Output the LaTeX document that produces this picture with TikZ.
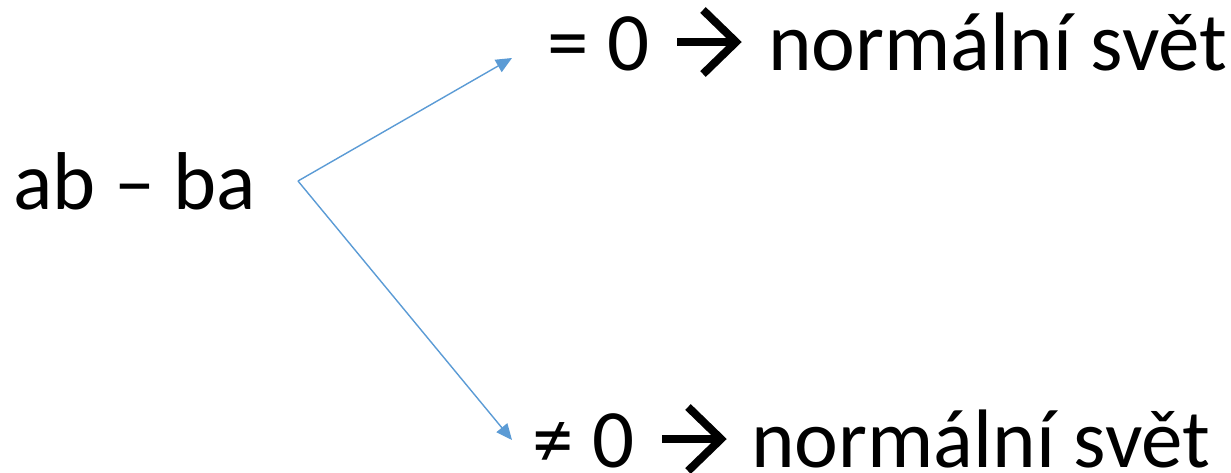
\documentclass[tikz,border=0pt]{standalone}
\usepackage{fontspec}
\setmainfont{Carlito}
\usetikzlibrary{arrows.meta}
\definecolor{linkblue}{HTML}{5B9BD5}
\tikzset{
  txt/.style={inner sep=0pt, anchor=base west, font=\fontsize{83}{98}\selectfont},
  lefttxt/.style={inner sep=0pt, anchor=base west, font=\fontsize{82}{96}\selectfont},
  link/.style={draw=linkblue, line width=1.4pt, -{Triangle[length=16pt,width=14pt]}},
  bigarrow/.style={draw=black, line width=8pt},
}
\begin{document}
\begin{tikzpicture}[x=1pt,y=-1pt]
\useasboundingbox (0,0) rectangle (1231,472);
% left expression
\node[lefttxt] (expr) at (13,209) {ab – ba};
\coordinate (fork) at (298,181);
% top branch
\node[txt] (eq) at (547,70) {= 0};
\coordinate (eqa) at (677,42);
\coordinate (eqb) at (736,42);
\draw[bigarrow] (eqa) -- (eqb);
\draw[bigarrow, line join=miter] (703,10) -- (eqb) -- (703,74);
\node[txt] (w1) at (768,70) {normální svět};
% bottom branch
\node[txt] (ne) at (532,467) {≠ 0};
\coordinate (nea) at (662,439);
\coordinate (neb) at (721,439);
\draw[bigarrow] (nea) -- (neb);
\draw[bigarrow, line join=miter] (688,407) -- (neb) -- (688,471);
\node[txt] (w2) at (751,467) {normální svět};
% connectors
\coordinate (t1) at (512,58);
\coordinate (t2) at (512,440);
\draw[link] (fork) -- (t1);
\draw[link] (fork) -- (t2);
\end{tikzpicture}
\end{document}
